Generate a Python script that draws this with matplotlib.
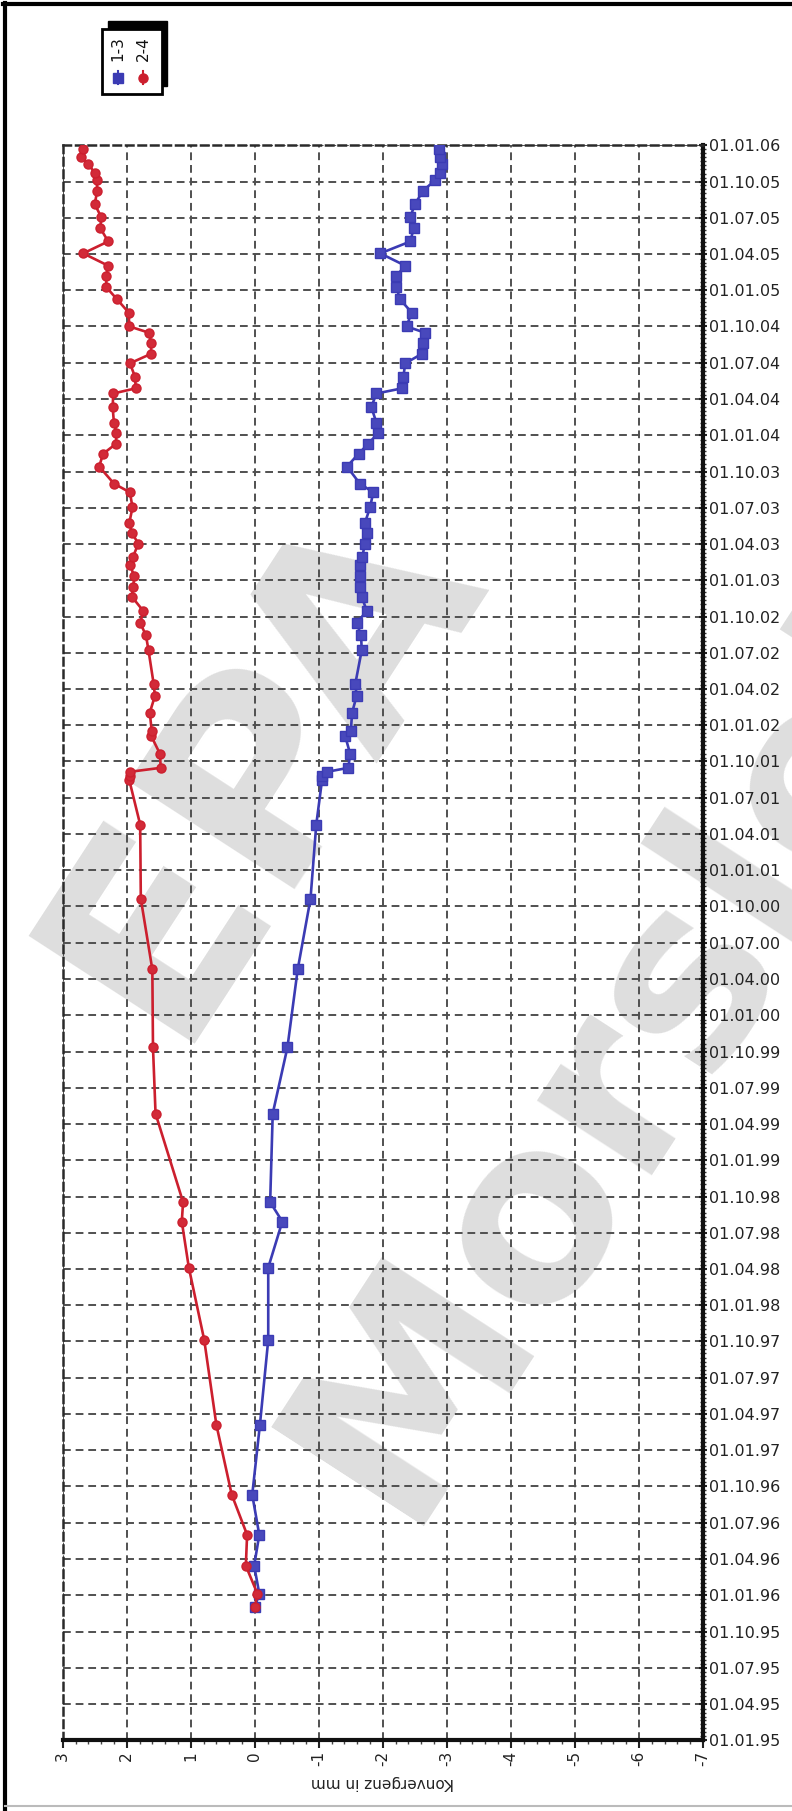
import matplotlib
matplotlib.use("Agg")
import matplotlib.pyplot as plt
import matplotlib.dates as mdates
import matplotlib.ticker as mticker
from matplotlib.patches import Rectangle
from matplotlib.lines import Line2D
import numpy as np

# measurement dates and convergence readings (mm)
dates = np.array([
    "1995-12-01", "1996-01-05", "1996-03-15", "1996-06-01", "1996-09-10",
    "1997-03-05", "1997-10-05", "1998-04-05", "1998-07-30", "1998-09-17",
    "1999-04-28", "1999-10-12", "2000-04-25", "2000-10-20", "2001-04-25",
    "2001-08-15", "2001-08-25", "2001-09-05", "2001-09-15", "2001-10-20",
    "2001-12-05", "2001-12-17", "2002-02-01", "2002-03-15", "2002-04-15",
    "2002-07-08", "2002-08-15", "2002-09-15", "2002-10-15", "2002-11-20",
    "2002-12-15", "2003-01-10", "2003-02-08", "2003-03-01", "2003-04-03",
    "2003-04-30", "2003-05-25", "2003-07-03", "2003-08-10", "2003-09-01",
    "2003-10-14", "2003-11-15", "2003-12-10", "2004-01-07", "2004-02-01",
    "2004-03-12", "2004-04-15", "2004-04-28", "2004-05-27", "2004-06-30",
    "2004-07-24", "2004-08-20", "2004-09-15", "2004-10-01", "2004-11-05",
    "2004-12-08", "2005-01-08", "2005-02-05", "2005-03-03", "2005-04-03",
    "2005-05-03", "2005-06-05", "2005-07-04", "2005-08-05", "2005-09-08",
    "2005-10-05", "2005-10-22", "2005-11-15", "2005-12-01", "2005-12-22",
], dtype="datetime64[D]")

conv_13 = [
    0.00, -0.07, 0.01, -0.07, 0.04,
    -0.08, -0.21, -0.21, -0.43, -0.24,
    -0.28, -0.51, -0.67, -0.87, -0.96,
    -1.05, -1.05, -1.13, -1.46, -1.49,
    -1.41, -1.50, -1.52, -1.59, -1.57,
    -1.67, -1.66, -1.59, -1.75, -1.67,
    -1.65, -1.65, -1.65, -1.68, -1.72,
    -1.75, -1.72, -1.80, -1.85, -1.64,
    -1.44, -1.62, -1.77, -1.93, -1.90,
    -1.82, -1.90, -2.30, -2.32, -2.35,
    -2.61, -2.63, -2.66, -2.37, -2.45,
    -2.27, -2.21, -2.21, -2.35, -1.96,
    -2.43, -2.48, -2.43, -2.50, -2.63,
    -2.82, -2.90, -2.92, -2.90, -2.87,
]

conv_24 = [
    0.00, -0.04, 0.14, 0.12, 0.36,
    0.60, 0.79, 1.03, 1.14, 1.12,
    1.55, 1.59, 1.60, 1.78, 1.79,
    1.96, 1.95, 1.95, 1.47, 1.48,
    1.62, 1.61, 1.64, 1.56, 1.58,
    1.66, 1.70, 1.79, 1.74, 1.92,
    1.90, 1.88, 1.95, 1.90, 1.82,
    1.92, 1.96, 1.91, 1.95, 2.20,
    2.43, 2.37, 2.17, 2.16, 2.20,
    2.22, 2.21, 1.86, 1.87, 1.95,
    1.62, 1.62, 1.65, 1.96, 1.97,
    2.15, 2.32, 2.32, 2.29, 2.68,
    2.29, 2.41, 2.40, 2.50, 2.46,
    2.47, 2.50, 2.60, 2.71, 2.68,
]

series_labels = ["1-3", "2-4"]
x_ticks = list(range(-7, 4))

W, H = 792, 1811
plt.rcParams["axes.unicode_minus"] = False
plt.rcParams["font.family"] = ["DejaVu Sans"]

fig = plt.figure(figsize=(W / 100, H / 100), dpi=100)
ax = fig.add_axes([62.7 / W, 1 - 1740 / H, (703 - 62.7) / W, (1740 - 145) / H])
ax.set_axisbelow(True)

blue = "#3b3bb4"
red = "#cc1f2e"

ax.plot(conv_13, dates, color=blue, lw=1.9, marker="s", ms=7, mfc="#4848bc", mec=blue, zorder=3)
ax.plot(conv_24, dates, color=red, lw=1.9, marker="o", ms=6.5, mfc="#d22a38", mec=red, zorder=3)

# axes
ax.set_xlim(3, -7)
ax.set_ylim(np.datetime64("1995-01-01"), np.datetime64("2006-01-01"))
ax.xaxis.set_major_locator(mticker.FixedLocator(x_ticks))
ax.xaxis.set_minor_locator(mticker.MultipleLocator(0.2))
ax.yaxis.set_major_locator(mdates.MonthLocator(bymonth=[1, 4, 7, 10]))
ax.yaxis.set_minor_locator(mdates.DayLocator(bymonthday=[1, 11, 21]))
ax.yaxis.set_major_formatter(mdates.DateFormatter("%d.%m.%y"))
ax.yaxis.tick_right()

ax.tick_params(axis="x", which="major", length=6, width=1.5, labelsize=11,
               labelrotation=90, pad=2, colors="#222222")
ax.tick_params(axis="x", which="minor", length=3, width=1, color="#444444")
ax.tick_params(axis="y", which="major", length=6, width=1.5, labelsize=11.5,
               pad=1, colors="#222222", direction="inout")
ax.tick_params(axis="y", which="minor", length=4, width=1, color="#333333",
               direction="inout")

ax.grid(True, which="major", color="#505050", lw=1.4, linestyle=(0, (4, 2.5)))

for s in ["bottom", "right"]:
    ax.spines[s].set_linewidth(3)
    ax.spines[s].set_color("#111111")
for s in ["top", "left"]:
    ax.spines[s].set_linewidth(1.8)
    ax.spines[s].set_color("#2a2a2a")
    ax.spines[s].set_linestyle((0, (3, 2)))

ax.set_xlabel("Konvergenz in mm", fontsize=11, rotation=180, labelpad=6, color="#222222")

# watermark
wm = dict(transform=fig.transFigure, fontweight="bold", color="#dedede",
          ha="center", va="center", rotation_mode="anchor", zorder=0.2, clip_on=False)
ax.text(262 / W, 1 - 765 / H, "EPA", rotation=57, fontsize=195, **wm)
ax.text(745 / W, 1 - 870 / H, "Morsleben", rotation=57, fontsize=180, **wm)

# legend box with shadow
def fx(px):
    return px / W

def fy(py):
    return 1 - py / H

fig.add_artist(Rectangle((fx(108), fy(86)), fx(167) - fx(108), fy(21) - fy(86),
                         transform=fig.transFigure, facecolor="black", edgecolor="black"))
fig.add_artist(Rectangle((fx(102), fy(94)), fx(162) - fx(102), fy(29) - fy(94),
                         transform=fig.transFigure, facecolor="white", edgecolor="black", lw=2))
for px, col, mk, lab in [(118, blue, "s", series_labels[0]), (143, red, "o", series_labels[1])]:
    fig.add_artist(Line2D([fx(px), fx(px)], [fy(84), fy(71)], transform=fig.transFigure,
                          color=col, lw=1.5, marker=None))
    fig.add_artist(Line2D([fx(px)], [fy(77.5)], transform=fig.transFigure,
                          color=col, marker=mk, ms=6.5, ls="none"))
    fig.text(fx(px), fy(49), lab, rotation=90, ha="center", va="center", fontsize=11,
             color="#111111")

# outer frame
fig.add_artist(Line2D([fx(5), fx(5)], [fy(3), fy(1811)], transform=fig.transFigure,
                      color="black", lw=3))
fig.add_artist(Line2D([fx(3), fx(792)], [fy(4), fy(4)], transform=fig.transFigure,
                      color="black", lw=3))
fig.add_artist(Line2D([fx(5), fx(792)], [fy(1806), fy(1806)], transform=fig.transFigure,
                      color="#bbbbbb", lw=1.5))

fig.savefig("out.png", dpi=100)
